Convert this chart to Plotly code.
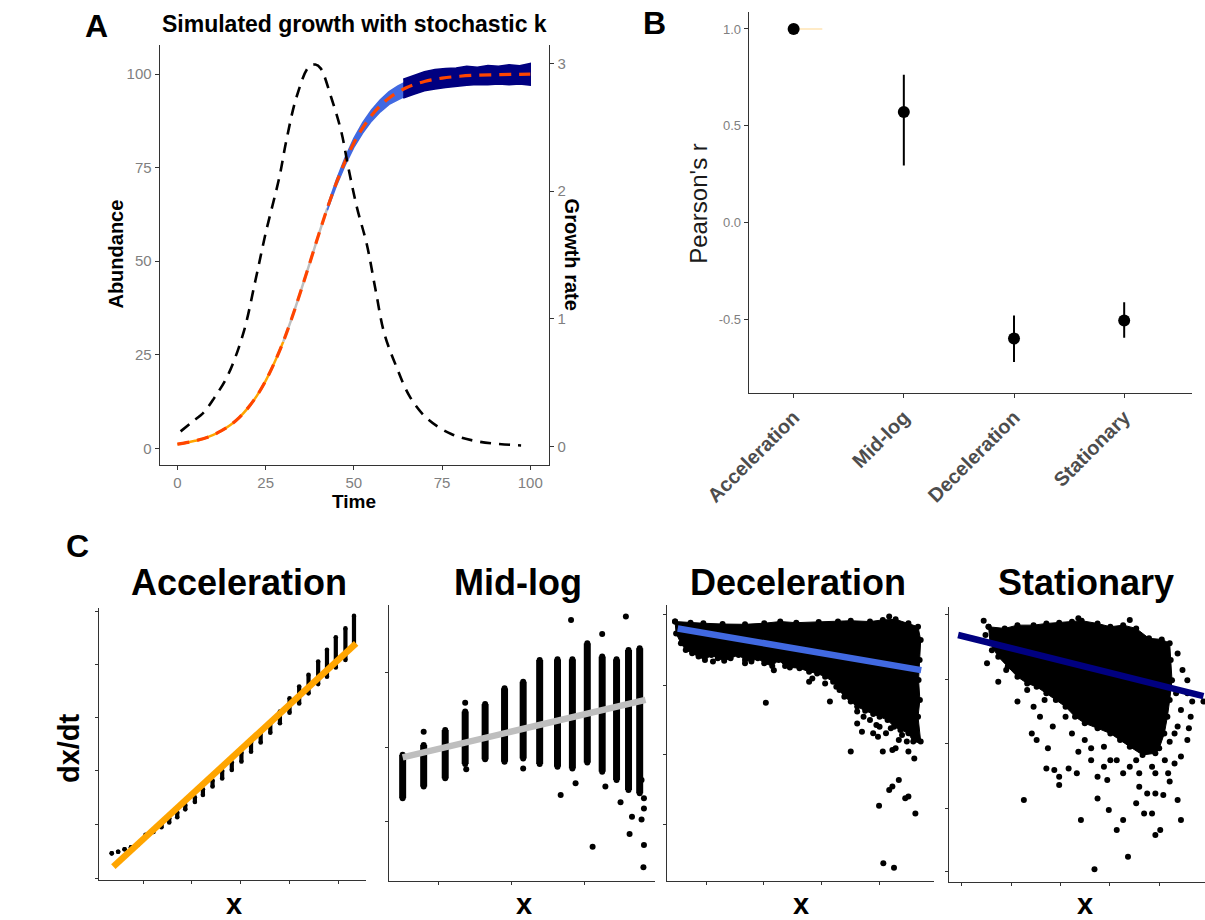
import plotly.graph_objects as go

W, H = 1205, 920

# ---------------- Panel A data ----------------
time_det = [0, 2.5, 5, 7.5, 10, 12.5, 15, 17.5, 20, 22.5, 25, 27.5, 30, 32.5, 35, 37.5,
            40, 42.5, 45, 47.5, 50, 52.5, 55, 57.5, 60, 65, 70, 75, 80, 85, 90, 95, 100]
abund_det = [1.1, 1.5, 2.0, 2.6, 3.5, 4.7, 6.2, 8.2, 10.8, 14.0, 18.0, 22.9, 28.5, 35.0, 42.1, 49.5,
             57.0, 64.2, 70.8, 76.6, 81.6, 85.6, 88.9, 91.5, 93.6, 96.4, 98.0, 98.9, 99.4, 99.7, 99.8, 99.9, 99.95]
phase_bounds = [0, 30, 42.5]          # orange phase, grey phase

blue_t = [42.5, 45, 47.5, 50, 52.5, 55, 57.5, 60, 62.5, 65]
blue_lo = [63.6, 70.0, 75.6, 80.4, 84.2, 87.4, 89.9, 91.9, 93.2, 94.3]
blue_hi = [64.8, 71.6, 77.6, 82.8, 87.0, 90.4, 93.1, 95.3, 96.8, 98.0]

navy_t = [64, 67, 70, 73, 76, 79, 82, 85, 88, 91, 94, 97, 100]
navy_lo = [93.6, 94.6, 95.5, 96.0, 96.4, 96.8, 97.0, 97.2, 97.1, 97.3, 97.1, 97.3, 97.0]
navy_hi = [98.6, 99.6, 100.6, 101.2, 101.5, 101.6, 102.1, 101.8, 102.3, 102.1, 102.5, 102.2, 102.8]

growth_t = [0.9, 4, 7.5, 10.4, 14.3, 18.7, 22.1, 25, 28.9, 30.9, 33.8, 37.2, 39.1, 40.6, 43.5,
            46.4, 48.4, 50.8, 53.7, 56.2, 58.6, 62, 65.9, 70.8, 77.6, 85.4, 97.4]
growth_r = [0.12, 0.19, 0.27, 0.38, 0.56, 0.89, 1.30, 1.67, 2.11, 2.40, 2.74, 2.97, 2.99, 2.96, 2.74,
            2.47, 2.19, 1.88, 1.58, 1.22, 0.89, 0.63, 0.39, 0.22, 0.10, 0.04, 0.01]

# ---------------- Panel B data ----------------
phases = ["Acceleration", "Mid-log", "Deceleration", "Stationary"]
pearson_r = [1.0, 0.571, -0.598, -0.505]
pearson_lo = [1.0, 0.295, -0.72, -0.594]
pearson_hi = [1.0, 0.764, -0.479, -0.411]
accel_hbar_len = 0.26

# ---------------- Panel C data (unitless axes, 0-100) ----------------
acc_x = [4.8, 7.2, 9.6, 12.0, 14.4, 17.4, 20.4, 23.4, 26.3, 29.3, 32.3, 35.9, 38.9, 42.5, 46.1,
         49.7, 53.3, 56.9, 60.5, 64.1, 67.7, 71.3, 74.9, 78.4, 82.0, 85.3, 88.6, 92.2, 95.4]
acc_lo = [9.8, 10.4, 11.3, 12.0, 12.9, 15.8, 17.7, 19.4, 21.2, 23.1, 26.0, 28.7, 31.3, 34.4, 37.4,
          40.5, 43.6, 47.2, 50.6, 54.2, 57.7, 61.6, 65.0, 68.7, 72.1, 74.8, 78.2, 81.0, 86.5]
acc_hi = [9.8, 10.4, 11.3, 12.0, 12.9, 16.6, 18.4, 20.5, 22.7, 24.8, 27.6, 30.4, 33.4, 36.6, 40.2,
          43.3, 46.9, 50.6, 54.2, 57.9, 62.0, 66.9, 71.2, 75.5, 80.4, 84.7, 89.3, 92.6, 97.2]
acc_fit_x = [5.4, 96.2]
acc_fit_y = [4.9, 87.1]

mid_x = [5.1, 13.0, 21.1, 28.6, 36.1, 43.4, 50.4, 56.6, 63.3, 68.9, 74.5, 80.1, 85.5, 90.0, 94.2]
mid_lo = [30.0, 34.2, 37.2, 42.4, 44.1, 43.2, 44.4, 42.4, 41.4, 40.8, 42.9, 39.6, 36.6, 33.0, 31.8]
mid_hi = [45.7, 49.3, 54.7, 61.4, 64.1, 69.8, 72.2, 80.1, 80.3, 80.3, 86.1, 81.3, 80.3, 83.7, 84.3]
mid_out_x = [13.0, 28.6, 29.0, 50.4, 64.5, 68.4, 70.1, 80.1, 81.3, 76.5, 87.0, 89.0, 91.3, 90.4, 94.9, 95.8, 95.8, 95.8, 95.6, 94.9]
mid_out_y = [54.1, 64.6, 40.5, 40.8, 31.2, 94.6, 35.4, 89.5, 34.2, 12.4, 28.5, 95.8, 23.3, 17.0, 22.3, 30.0, 26.3, 13.0, 5.0, 36.6]
mid_fit_x = [5.1, 96.4]
mid_fit_y = [44.8, 65.6]

dec_core_x = [3.0, 8.8, 13.6, 20.8, 29.2, 36.4, 42.4, 48.4, 56.8, 64.0, 68.8, 76.0, 80.8, 85.6, 90.4, 94.0,
              95.0, 94.6, 94.2, 94.7, 94.0, 95.0,
              92.2, 90.4, 87.4, 85.0, 82.6, 79.6, 77.2, 74.2, 71.2, 68.8, 66.4, 64.6, 62.2, 59.2, 56.2, 53.2,
              49.6, 46.0, 44.2, 41.8, 39.4, 36.4, 34.0, 31.6, 29.2, 26.8, 23.8, 21.4, 19.0, 16.6, 14.2, 11.8,
              9.4, 7.0, 5.2, 3.4]
dec_core_y = [94.0, 93.6, 93.4, 93.1, 93.0, 93.4, 94.0, 93.6, 93.8, 94.0, 94.3, 94.0, 94.6, 94.8, 93.4, 92.1,
              87.3, 80.1, 72.8, 65.6, 59.5, 50.5,
              50.5, 53.5, 54.7, 55.9, 58.3, 59.5, 60.5, 61.7, 63.2, 65.0, 66.8, 69.2, 72.2, 74.0, 75.2, 75.8,
              77.1, 77.4, 77.9, 80.1, 77.9, 78.9, 80.7, 79.5, 80.1, 81.9, 80.7, 79.8, 80.7, 81.9, 80.1, 81.3,
              82.5, 83.7, 86.1, 89.7]
dec_out_x = [37.0, 61.0, 53.2, 59.2, 68.8, 73.0, 80.8, 85.6, 83.2, 86.8, 84.4, 89.2, 90.4, 93.0, 79.4, 81.0,
             85.0, 92.6, 94.0, 78.4, 83.8, 73.6, 77.2, 89.8, 91.6, 66.4, 63.4, 40.0, 29.2, 17.2, 54.4, 71.2,
             76.0, 88.0, 83.2, 79.6, 71.2, 92.8, 82.0, 86.8, 84.4, 90.4, 79.0, 88.0]
dec_out_y = [64.6, 65.0, 72.2, 71.6, 46.9, 54.1, 46.9, 48.1, 33.0, 36.6, 34.2, 30.0, 30.6, 24.5, 27.3, 6.4,
             4.8, 44.4, 51.1, 56.5, 55.3, 59.5, 53.5, 50.5, 54.1, 68.6, 70.4, 76.4, 78.9, 79.5, 73.4, 61.4,
             58.3, 52.9, 95.8, 55.9, 57.1, 55.9, 53.5, 51.1, 47.5, 46.9, 52.3, 57.1]
dec_fit_x = [4.0, 95.2]
dec_fit_y = [91.5, 76.4]

sta_core_x = [15.4, 21.7, 26.7, 33.0, 38.0, 43.0, 48.0, 51.8, 58.0, 63.0, 68.0, 73.1, 78.1, 83.1, 86.2,
              86.6, 87.1, 86.2, 85.3, 84.1, 82.1,
              80.6, 75.6, 70.6, 66.8, 63.0, 58.0, 53.0, 49.2, 45.5, 41.7, 38.0, 34.2, 30.5, 26.7, 22.9,
              19.2, 16.0]
sta_core_y = [92.7, 92.1, 93.3, 93.3, 93.9, 94.2, 94.5, 94.9, 93.9, 92.7, 93.3, 92.1, 88.5, 88.1, 86.7,
              80.6, 73.3, 66.1, 60.0, 53.9, 48.5,
              46.7, 46.1, 49.1, 51.5, 53.9, 55.8, 57.6, 60.0, 63.6, 66.1, 68.5, 70.9, 72.1, 74.5, 78.2,
              81.8, 86.7]
sta_out_x = [13.5, 14.2, 16.7, 14.8, 19.2, 24.2, 22.3, 26.7, 29.2, 30.5, 33.0, 35.5, 37.3, 40.5, 45.5,
             48.0, 50.5, 55.5, 60.5, 89.3, 91.2, 93.1, 95.0, 99.4, 94.4, 93.7, 93.1, 90.6, 88.1, 86.2,
             89.3, 90.6, 83.7, 80.6, 82.5, 79.3, 76.2, 73.1, 74.3, 80.6, 85.6, 80.6, 74.3, 68.0, 63.0,
             68.0, 65.5, 62.4, 61.8, 58.0, 58.0, 51.5, 69.9, 56.8, 29.2, 38.0, 41.1, 43.0, 46.7, 43.0,
             38.6, 34.2, 32.3, 70.6, 50.5, 88.7, 90.6, 88.1, 84.3, 79.3, 70.6, 65.5, 55.5, 53.0, 17.9,
             25.4, 86.2, 93.1, 89.3, 60.5, 73.1, 77.4, 49.9]
sta_out_y = [94.9, 89.7, 84.2, 79.4, 72.7, 83.0, 77.0, 65.5, 80.6, 69.7, 63.6, 60.0, 66.1, 56.4, 60.0,
             53.9, 47.3, 48.5, 49.1, 83.0, 77.0, 73.3, 65.5, 65.5, 60.0, 55.8, 51.5, 45.5, 43.0, 36.4,
             29.7, 22.4, 31.5, 17.0, 18.8, 24.8, 24.8, 28.5, 34.5, 32.1, 39.4, 39.4, 39.4, 39.4, 44.2,
             22.4, 18.8, 26.1, 37.0, 38.2, 30.3, 22.4, 9.1, 4.5, 29.7, 41.2, 40.6, 38.2, 41.2, 35.2,
             48.5, 51.5, 53.9, 95.2, 95.8, 68.5, 62.4, 53.9, 44.2, 41.8, 41.8, 44.2, 44.2, 51.5, 87.3,
             86.7, 50.9, 68.5, 56.4, 41.8, 44.2, 32.1, 39.4]
sta_fit_x = [3.5, 99.4]
sta_fit_y = [89.7, 67.5]

c_titles = ["Acceleration", "Mid-log", "Deceleration", "Stationary"]

# ---------------- helpers ----------------
def fx(p):
    return p / W

def fy(p):
    return 1 - p / H

FONT = "Liberation Sans, Arial, Helvetica, sans-serif"
AXC = "#333333"

fig = go.Figure()

# ---------------- Panel A ----------------
orange_t = [t for t in time_det if phase_bounds[0] <= t <= phase_bounds[1]]
orange_n = [n for t, n in zip(time_det, abund_det) if phase_bounds[0] <= t <= phase_bounds[1]]
grey_t = [t for t in time_det if phase_bounds[1] <= t <= phase_bounds[2]]
grey_n = [n for t, n in zip(time_det, abund_det) if phase_bounds[1] <= t <= phase_bounds[2]]

fig.add_trace(go.Scatter(x=orange_t, y=orange_n, mode="lines", line=dict(color="#FFA500", width=2.5, shape="spline"),
                         xaxis="x", yaxis="y", hoverinfo="skip"))
fig.add_trace(go.Scatter(x=grey_t, y=grey_n, mode="lines", line=dict(color="#BEBEBE", width=2.5, shape="spline"),
                         xaxis="x", yaxis="y", hoverinfo="skip"))
fig.add_trace(go.Scatter(x=blue_t + blue_t[::-1], y=blue_hi + blue_lo[::-1], mode="lines", fill="toself",
                         fillcolor="#4169E1", line=dict(color="#4169E1", width=1.5), xaxis="x", yaxis="y", hoverinfo="skip"))
fig.add_trace(go.Scatter(x=navy_t + navy_t[::-1], y=navy_hi + navy_lo[::-1], mode="lines", fill="toself",
                         fillcolor="#000080", line=dict(color="#000080", width=1.5), xaxis="x", yaxis="y", hoverinfo="skip"))
fig.add_trace(go.Scatter(x=time_det, y=abund_det, mode="lines",
                         line=dict(color="#FF4500", width=3.2, dash="12px,8px", shape="spline"),
                         xaxis="x", yaxis="y", hoverinfo="skip"))
fig.add_trace(go.Scatter(x=growth_t, y=growth_r, mode="lines",
                         line=dict(color="black", width=2.6, dash="11px,8px", shape="spline"),
                         xaxis="x", yaxis="y2", hoverinfo="skip"))

# ---------------- Panel B ----------------
bx, by = [], []
for i, (lo, hi) in enumerate(zip(pearson_lo, pearson_hi)):
    bx += [i, i, None]
    by += [lo, hi, None]
fig.add_trace(go.Scatter(x=[0, accel_hbar_len], y=[pearson_r[0], pearson_r[0]], mode="lines",
                         line=dict(color="#FFE4B5", width=1.5), xaxis="x2", yaxis="y3", hoverinfo="skip"))
fig.add_trace(go.Scatter(x=bx, y=by, mode="lines", line=dict(color="black", width=2),
                         xaxis="x2", yaxis="y3", hoverinfo="skip"))
fig.add_trace(go.Scatter(x=list(range(len(phases))), y=pearson_r, mode="markers",
                         marker=dict(color="black", size=12, line=dict(width=0)),
                         xaxis="x2", yaxis="y3", hoverinfo="skip"))

# ---------------- Panel C ----------------
def columns(xs, los, his):
    cx, cy = [], []
    for x, lo, hi in zip(xs, los, his):
        cx += [x, x, None]
        cy += [lo, hi, None]
    return cx, cy

# C1 Acceleration
cx, cy = columns(acc_x, acc_lo, acc_hi)
fig.add_trace(go.Scatter(x=cx, y=cy, mode="lines", line=dict(color="black", width=4.2),
                         xaxis="x3", yaxis="y4", hoverinfo="skip"))
fig.add_trace(go.Scatter(x=acc_x + acc_x, y=acc_lo + acc_hi, mode="markers",
                         marker=dict(color="black", size=4.6, line=dict(width=0)),
                         xaxis="x3", yaxis="y4", hoverinfo="skip"))
fig.add_trace(go.Scatter(x=acc_fit_x, y=acc_fit_y, mode="lines", line=dict(color="#FFA500", width=6.5),
                         xaxis="x3", yaxis="y4", hoverinfo="skip"))

# C2 Mid-log
cx, cy = columns(mid_x, mid_lo, mid_hi)
fig.add_trace(go.Scatter(x=cx, y=cy, mode="lines", line=dict(color="black", width=7),
                         xaxis="x4", yaxis="y5", hoverinfo="skip"))
fig.add_trace(go.Scatter(x=mid_x + mid_x + mid_out_x, y=mid_lo + mid_hi + mid_out_y, mode="markers",
                         marker=dict(color="black", size=6, line=dict(width=0)),
                         xaxis="x4", yaxis="y5", hoverinfo="skip"))
fig.add_trace(go.Scatter(x=mid_fit_x, y=mid_fit_y, mode="lines", line=dict(color="#BEBEBE", width=6.5),
                         xaxis="x4", yaxis="y5", hoverinfo="skip"))

# C3 Deceleration
fig.add_trace(go.Scatter(x=dec_core_x + dec_core_x[:1], y=dec_core_y + dec_core_y[:1], mode="lines+markers",
                         fill="toself", fillcolor="black", line=dict(color="black", width=1),
                         marker=dict(color="black", size=6, line=dict(width=0)),
                         xaxis="x5", yaxis="y6", hoverinfo="skip"))
fig.add_trace(go.Scatter(x=dec_out_x, y=dec_out_y, mode="markers",
                         marker=dict(color="black", size=6, line=dict(width=0)),
                         xaxis="x5", yaxis="y6", hoverinfo="skip"))
fig.add_trace(go.Scatter(x=dec_fit_x, y=dec_fit_y, mode="lines", line=dict(color="#4169E1", width=6.5),
                         xaxis="x5", yaxis="y6", hoverinfo="skip"))

# C4 Stationary
fig.add_trace(go.Scatter(x=sta_core_x + sta_core_x[:1], y=sta_core_y + sta_core_y[:1], mode="lines+markers",
                         fill="toself", fillcolor="black", line=dict(color="black", width=1),
                         marker=dict(color="black", size=6, line=dict(width=0)),
                         xaxis="x6", yaxis="y7", hoverinfo="skip"))
fig.add_trace(go.Scatter(x=sta_out_x, y=sta_out_y, mode="markers",
                         marker=dict(color="black", size=6, line=dict(width=0)),
                         xaxis="x6", yaxis="y7", hoverinfo="skip"))
fig.add_trace(go.Scatter(x=sta_fit_x, y=sta_fit_y, mode="lines", line=dict(color="#000080", width=6.5),
                         xaxis="x6", yaxis="y7", hoverinfo="skip"))

# ---------------- axes ----------------
def base_axis(**kw):
    d = dict(showline=True, linecolor=AXC, linewidth=1.3, ticks="outside", ticklen=4, tickwidth=1,
             tickcolor=AXC, showgrid=False, zeroline=False, fixedrange=True)
    d.update(kw)
    return d

tick_gray = dict(family=FONT, size=15, color="#7f7f7f")

layout = dict(
    width=W, height=H, margin=dict(l=0, r=0, t=0, b=0),
    paper_bgcolor="white", plot_bgcolor="white", showlegend=False,
    font=dict(family=FONT, color="black"),
    # Panel A
    xaxis=base_axis(domain=[fx(118.3), fx(523.3)], range=[-5, 105.4], tickvals=[0, 25, 50, 75, 100],
                    tickfont=tick_gray, anchor="y"),
    yaxis=base_axis(domain=[fy(465), fy(45)], range=[-4.46, 107.75], tickvals=[0, 25, 50, 75, 100],
                    tickfont=tick_gray, anchor="x"),
    yaxis2=base_axis(domain=[fy(465), fy(45)], range=[-0.143, 3.143], tickvals=[0, 1, 2, 3],
                     tickfont=tick_gray, overlaying="y", side="right", anchor="x"),
    # Panel B
    xaxis2=base_axis(domain=[fx(730.7), fx(1192)], range=[-0.407, 3.62], tickvals=[0, 1, 2, 3],
                     ticktext=[f"<b>{p}</b>" for p in phases], tickangle=-45,
                     tickfont=dict(family=FONT, size=20, color="#4D4D4D"), anchor="y3"),
    yaxis3=base_axis(domain=[fy(392.7), fy(11.7)], range=[-0.878, 1.089], tickvals=[-0.5, 0, 0.5, 1.0],
                     ticktext=["-0.5", "0.0", "0.5", "1.0"], tickfont=dict(family=FONT, size=13, color="#7f7f7f"),
                     anchor="x2"),
)

c_dom = [
    ([55, 333], [608.3, 880], [16.5, 34.8, 53.1, 71.3, 89.6], [0.6, 20.5, 40.2, 59.8, 79.3, 98.9]),
    ([356.7, 633.3], [605, 881], [18.7, 46.0, 73.5], [21.5, 48.4, 75.5]),
    ([645.7, 923.3], [605, 881], [14.8, 36.1, 57.7, 79.4], [20.3, 45.7, 71.0, 96.4]),
    ([939, 1205], [606.7, 881.7], [5.0, 24.2, 43.6, 62.8, 82.1], [3.6, 26.7, 50.3, 73.6, 97.0]),
]
for k, (xd, yd, xt, yt) in enumerate(c_dom):
    xi, yi = k + 3, k + 4
    layout[f"xaxis{xi}"] = base_axis(domain=[fx(xd[0]), fx(xd[1])], range=[0, 100], tickvals=xt,
                                     showticklabels=False, ticklen=3, anchor=f"y{yi}")
    layout[f"yaxis{yi}"] = base_axis(domain=[fy(yd[1]), fy(yd[0])], range=[0, 100], tickvals=yt,
                                     showticklabels=False, ticklen=3, anchor=f"x{xi}")

fig.update_layout(**layout)

# ---------------- text ----------------
def ann(text, x, y, size, bold=False, angle=0, color="black", xanchor="center", yanchor="middle"):
    t = f"<b>{text}</b>" if bold else text
    fig.add_annotation(text=t, x=fx(x), y=fy(y), xref="paper", yref="paper", showarrow=False,
                       font=dict(family=FONT, size=size, color=color), textangle=angle,
                       xanchor=xanchor, yanchor=yanchor, borderpad=0)

ann("A", 52.5, 26, 32, bold=True)
ann("B", 632.4, 23, 32, bold=True)
ann("C", 32.5, 546, 32, bold=True)

ann("Simulated growth with stochastic k", 320.5, 24, 23, bold=True)
ann("Abundance", 72.3, 254, 20, bold=True, angle=-90)
ann("Time", 320.5, 502, 19, bold=True)
ann("Growth rate", 547.3, 255, 20, bold=True, angle=90)

ann("Pearson's r", 677.7, 203, 24, color="#1a1a1a", angle=-90)

c_title_x = [200.8, 490.3, 781.7, 1080.8]
for name, x in zip(c_titles, c_title_x):
    ann(name, x, 582, 36, bold=True)
ann("dx/dt", 24, 748, 29, bold=True, angle=-90)
for x in [195.5, 496.8, 784.8, 1080.2]:
    ann("x", x, 904, 29, bold=True)

fig.write_html("out.html")
